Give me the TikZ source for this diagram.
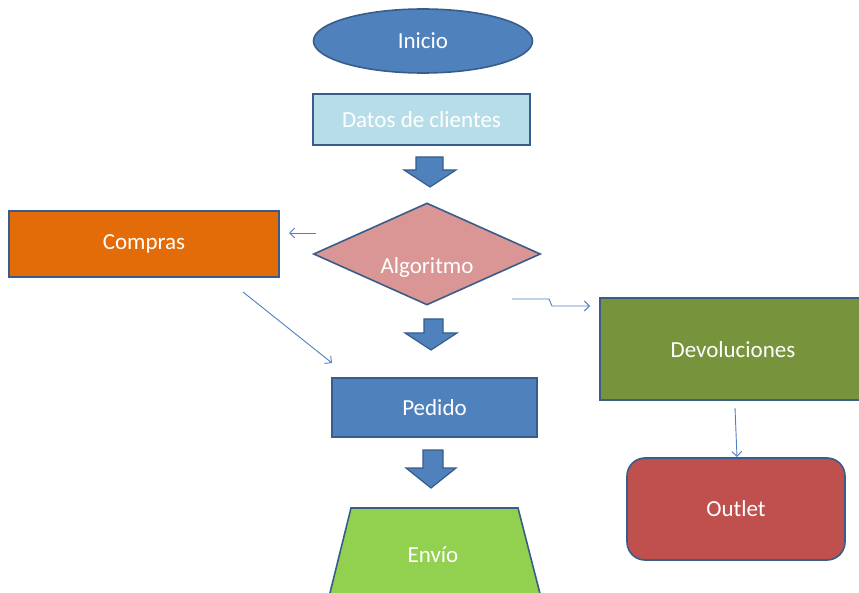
\documentclass[tikz,border=0pt]{standalone}
\usepackage{fontspec}
\setmainfont{Carlito}
\usetikzlibrary{shapes.geometric,arrows.meta}
\definecolor{pblue}{HTML}{4F81BD}
\definecolor{pborder}{HTML}{385D8A}
\definecolor{datosc}{HTML}{B7DEE8}
\definecolor{comprasc}{HTML}{E36C09}
\definecolor{dpink}{HTML}{D99694}
\definecolor{devolc}{HTML}{77933C}
\definecolor{outletc}{HTML}{C0504D}
\definecolor{envioc}{HTML}{92D050}
\begin{document}
\begin{tikzpicture}[x=1pt,y=-1pt,
  txt/.style={text=white,font=\fontsize{23}{27}\selectfont},
  shp/.style={draw=pborder,line width=1.6pt,txt,inner sep=0pt},
  conn/.style={draw=pblue,line width=0.9pt,-{Straight Barb[length=5pt,width=10pt]}},
  blockarrow/.style={fill=pblue,draw=pborder,line width=1.2pt,line join=miter}]
\clip (0,0) rectangle (859,593);
\fill[white] (0,0) rectangle (859,593);
% shapes
\node[shp,ellipse,fill=pblue,minimum width=219pt,minimum height=64pt] (inicio) at (423,41) {Inicio};
\node[shp,rectangle,fill=datosc,minimum width=217pt,minimum height=51pt] (datos) at (421.5,119.5) {Datos de clientes};
\node[shp,diamond,fill=dpink,minimum width=227pt,minimum height=102pt] (algo) at (427,254) {};
\node[txt] (algotext) at (427,267) {Algoritmo};
\node[shp,rectangle,fill=comprasc,minimum width=270pt,minimum height=66pt] (compras) at (144,244) {Compras};
\node[shp,rectangle,fill=pblue,minimum width=205pt,minimum height=59pt] (pedido) at (434.5,407.5) {Pedido};
\node[shp,rectangle,fill=devolc,minimum width=270pt,minimum height=102pt] (devol) at (735,349) {};
\node[txt] (devoltext) at (733,350) {Devoluciones};
\node[shp,rectangle,rounded corners=18pt,fill=outletc,minimum width=218pt,minimum height=102pt] (outlet) at (736,509) {Outlet};
\draw[draw=pborder,line width=1.6pt,fill=envioc] (351,508) -- (518,508) -- (545,613) -- (325,613) -- cycle;
\node[txt] (envio) at (433,555) {Envío};
% block arrows
\draw[blockarrow] (416,157) -- (443,157) -- (443,170) -- (456,170) -- (430,187) -- (404,170) -- (416,170) -- cycle;
\draw[blockarrow] (424,319) -- (443,319) -- (443,333) -- (457,333) -- (431,350) -- (405,333) -- (424,333) -- cycle;
\draw[blockarrow] (423,450) -- (443,450) -- (443,468) -- (456,468) -- (431,488) -- (406,468) -- (423,468) -- cycle;
% connectors
\coordinate (c1s) at (316,233);
\coordinate (c1e) at (289,233);
\draw[conn] (c1s) -- (c1e);
\coordinate (c2s) at (243,292);
\coordinate (c2e) at (332,363);
\draw[conn] (c2s) -- (c2e);
\coordinate (c3s) at (512,299);
\coordinate (c3e) at (590,306);
\draw[conn] (c3s) -- (549,299) -- (552,306) -- (c3e);
\coordinate (c4s) at (735,408);
\coordinate (c4e) at (737,457);
\draw[conn] (c4s) -- (c4e);
\end{tikzpicture}
\end{document}
